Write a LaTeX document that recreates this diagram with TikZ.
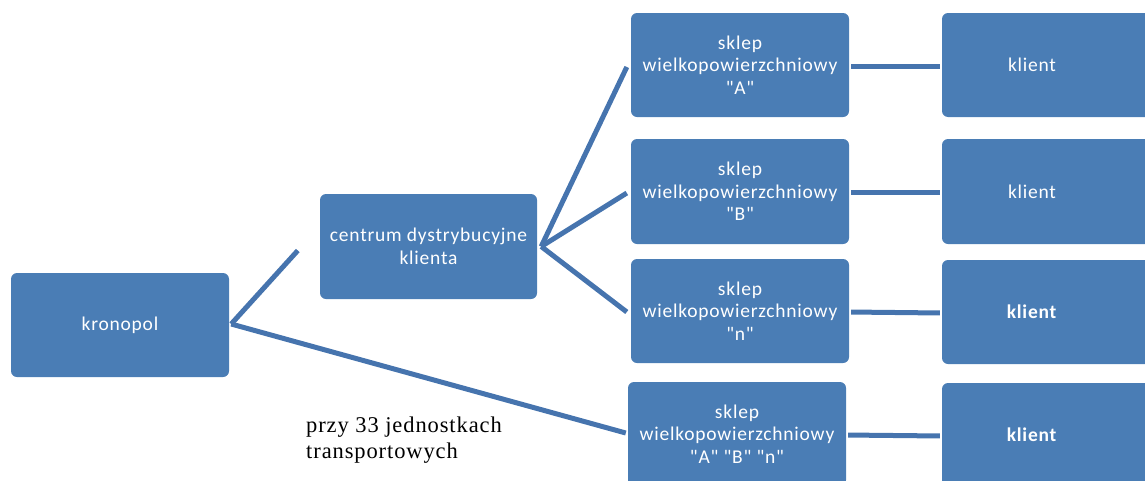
\documentclass[tikz,border=0pt]{standalone}
\usepackage{fontspec}
\setmainfont{Carlito}[Ligatures=TeXOff]
\newfontfamily\timesfont{Liberation Serif}
\definecolor{boxblue}{HTML}{4A7DB5}
\definecolor{lineblue}{HTML}{4674AE}
\begin{document}
\begin{tikzpicture}[x=1pt,y=-1pt,
  box/.style={fill=boxblue, rounded corners=6pt, minimum width=218pt, minimum height=104pt,
    text=white, align=center, inner sep=0pt,
    font=\fontsize{19.5}{22.5}\selectfont\addfontfeature{LetterSpace=4}},
  link/.style={draw=lineblue, line width=5pt}]
\useasboundingbox (0,0) rectangle (1145,480);
\begin{scope}
\clip (0,0) rectangle (1145,480);
\node[box] (kron) at (120,325) {kronopol};
\node[box, minimum width=217pt, minimum height=105pt] (centrum) at (428.5,246.5) {centrum dystrybucyjne\\klienta};
\node[box] (sA) at (740,65) {sklep\\wielkopowierzchniowy\\"A"};
\node[box, minimum height=105pt] (sB) at (740,191.5) {sklep\\wielkopowierzchniowy\\"B"};
\node[box] (sN) at (740,311) {sklep\\wielkopowierzchniowy\\"n"};
\node[box] (sABn) at (737,434) {sklep\\wielkopowierzchniowy\\"A" "B" "n"};
\node[box] (k1) at (1051,65) {klient\hspace*{38pt}};
\node[box, minimum height=105pt] (k2) at (1051,191.5) {klient\hspace*{38pt}};
\node[box] (k3) at (1051,312) {\textbf{klient}\hspace*{38pt}};
\node[box] (k4) at (1051,435) {\textbf{klient}\hspace*{38pt}};
\end{scope}
\draw[link] (kron.east) ++(2,-1) coordinate (kfan) -- ([xshift=-22pt,yshift=-4pt]centrum.west);
\draw[link] (kfan) -- ([xshift=-2pt,yshift=1pt]sABn.west);
\draw[link] ([xshift=4pt]centrum.east) coordinate (cfan) -- ([xshift=-4pt,yshift=-2pt]sA.west);
\draw[link] (cfan) -- ([xshift=-4pt,yshift=-1.5pt]sB.west);
\draw[link] (cfan) -- ([xshift=-4pt,yshift=-1pt]sN.west);
\draw[link, shorten <=2pt, shorten >=2pt] ([yshift=-1pt]sA.east) -- ([yshift=-1pt]k1.west);
\draw[link, shorten <=2pt, shorten >=2pt] ([yshift=-1pt]sB.east) -- ([yshift=-1pt]k2.west);
\draw[link, shorten <=2pt, shorten >=2pt] ([yshift=-1pt]sN.east) -- ([yshift=-1pt]k3.west);
\draw[link, shorten <=2pt, shorten >=2pt] ([yshift=-1pt]sABn.east) -- ([yshift=-1pt]k4.west);
\node[anchor=west, align=left, inner sep=0pt,
  font=\timesfont\fontsize{22.5}{26}\selectfont\addfontfeature{LetterSpace=4}] (note) at (306,440)
  {przy 33 jednostkach\\transportowych};
\end{tikzpicture}
\end{document}
